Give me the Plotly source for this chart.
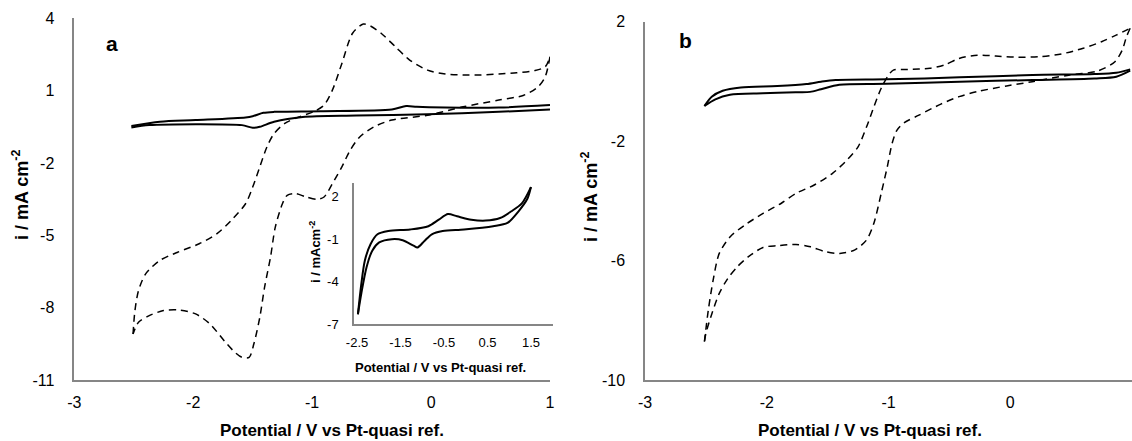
import plotly.graph_objects as go

W, H = 1132, 441

# ---------------- Panel a: main CV (dashed) ----------------
a_dash_fwd_x = [-2.506, -2.49, -2.46, -2.40, -2.28, -2.13, -1.95, -1.80, -1.68, -1.56, -1.50, -1.44, -1.38,
                -1.32, -1.23, -1.11, -0.99, -0.90, -0.83, -0.75, -0.66, -0.57, -0.51, -0.42, -0.30, -0.18,
                -0.03, 0.12, 0.27, 0.42, 0.57, 0.72, 0.87, 0.96, 1.0]
a_dash_fwd_y = [-9.09, -8.12, -7.29, -6.60, -6.04, -5.70, -5.35, -4.93, -4.38, -3.69, -3.0, -2.16, -1.33,
                -0.78, -0.36, -0.09, 0.12, 0.40, 1.02, 2.13, 3.38, 3.76, 3.68, 3.38, 2.82, 2.27,
                1.85, 1.69, 1.65, 1.65, 1.69, 1.74, 1.83, 1.99, 2.41]
a_dash_rev_x = [1.0, 0.96, 0.90, 0.78, 0.57, 0.27, -0.03, -0.33, -0.48, -0.60, -0.68, -0.75, -0.83, -0.90,
                -0.96, -1.05, -1.14, -1.21, -1.25, -1.31, -1.35, -1.40, -1.44, -1.49, -1.53, -1.59, -1.65,
                -1.74, -1.86, -1.98, -2.13, -2.25, -2.37, -2.46, -2.506]
a_dash_rev_y = [2.41, 1.58, 1.16, 0.81, 0.61, 0.33, -0.02, -0.22, -0.50, -0.92, -1.47, -2.16, -2.86, -3.41,
                -3.51, -3.41, -3.27, -3.34, -3.69, -4.66, -5.90, -7.15, -8.40, -9.50, -10.06, -10.06, -9.85,
                -9.37, -8.67, -8.26, -8.09, -8.12, -8.33, -8.60, -9.09]

# ---------------- Panel a: blank CV (solid) ----------------
a_solid_fwd_x = [-2.52, -2.28, -1.98, -1.56, -1.50, -1.41, -1.32, -0.93, -0.33, -0.21, -0.12, 0.12, 0.57, 1.0]
a_solid_fwd_y = [-0.47, -0.29, -0.22, -0.11, -0.06, 0.08, 0.12, 0.15, 0.22, 0.36, 0.33, 0.30, 0.30, 0.40]
a_solid_rev_x = [1.0, 0.57, -0.03, -0.63, -1.08, -1.32, -1.44, -1.50, -1.59, -1.98, -2.37, -2.52]
a_solid_rev_y = [0.22, 0.12, 0.02, -0.03, -0.09, -0.29, -0.50, -0.54, -0.43, -0.39, -0.43, -0.53]

# ---------------- Inset (panel a) ----------------
ins_fwd_x = [-2.48, -2.40, -2.32, -2.19, -2.03, -1.78, -1.28, -0.86, -0.62, -0.41, -0.20, 0.13, 0.46,
             0.79, 1.04, 1.29, 1.50]
ins_fwd_y = [-6.31, -4.12, -2.50, -1.35, -0.65, -0.42, -0.31, -0.08, 0.38, 0.78, 0.62, 0.38, 0.32,
             0.50, 0.96, 1.54, 2.69]
ins_rev_x = [1.50, 1.42, 1.21, 0.96, 0.63, -0.04, -0.53, -0.78, -0.95, -1.11, -1.20, -1.45, -1.70,
             -1.99, -2.15, -2.28, -2.40, -2.48]
ins_rev_y = [2.69, 1.88, 0.96, 0.15, -0.08, -0.31, -0.42, -0.65, -1.12, -1.58, -1.46, -1.07, -1.00,
             -1.23, -1.81, -2.96, -4.81, -6.31]

# ---------------- Panel b: dashed CV ----------------
b_dash_fwd_x = [-2.512, -2.48, -2.44, -2.39, -2.30, -2.18, -2.03, -1.88, -1.76, -1.61, -1.46, -1.34, -1.25,
                -1.18, -1.12, -1.06, -1.0, -0.96, -0.84, -0.66, -0.54, -0.42, -0.27, -0.12, 0.06, 0.24,
                0.42, 0.60, 0.75, 0.87, 0.985]
b_dash_fwd_y = [-8.72, -7.66, -6.65, -5.76, -5.20, -4.81, -4.42, -4.08, -3.75, -3.47, -3.08, -2.63, -2.19,
                -1.52, -0.85, -0.23, 0.21, 0.38, 0.40, 0.44, 0.55, 0.77, 0.88, 0.85, 0.81, 0.83,
                0.92, 1.11, 1.33, 1.55, 1.78]
b_dash_rev_x = [0.985, 0.955, 0.92, 0.86, 0.72, 0.48, 0.18, -0.03, -0.27, -0.42, -0.57, -0.75, -0.87, -0.93,
                -0.97, -1.01, -1.06, -1.12, -1.18, -1.28, -1.40, -1.52, -1.64, -1.76, -1.91, -2.03, -2.15,
                -2.24, -2.32, -2.39, -2.45, -2.50, -2.512]
b_dash_rev_y = [1.78, 1.50, 1.05, 0.66, 0.35, 0.21, -0.01, -0.15, -0.34, -0.51, -0.76, -1.13, -1.38, -1.63,
                -2.07, -2.86, -3.75, -4.75, -5.31, -5.65, -5.76, -5.70, -5.54, -5.46, -5.50, -5.56, -5.87,
                -6.20, -6.60, -7.10, -7.77, -8.44, -8.72]

# ---------------- Panel b: blank CV (solid) ----------------
b_solid_fwd_x = [-2.512, -2.452, -2.362, -2.213, -1.913, -1.674, -1.554, -1.434, -1.015, -0.416, 0.183, 0.692, 0.871, 0.985]
b_solid_fwd_y = [-0.824, -0.512, -0.311, -0.20, -0.155, -0.088, -0.009, 0.046, 0.069, 0.136, 0.214, 0.247, 0.292, 0.404]
b_solid_rev_x = [0.985, 0.871, 0.692, 0.183, -0.416, -1.015, -1.404, -1.554, -1.644, -1.763, -2.033, -2.302, -2.422, -2.512]
b_solid_rev_y = [0.359, 0.158, 0.10, 0.046, -0.009, -0.080, -0.11, -0.26, -0.35, -0.36, -0.40, -0.45, -0.60, -0.824]

# tick labels
a_xticks = [-3, -2, -1, 0, 1]
a_yticks = [4, 1, -2, -5, -8, -11]
b_xticks = [-3, -2, -1, 0, 1]
b_yticks = [2, -2, -6, -10]
ins_xticks = [-2.5, -1.5, -0.5, 0.5, 1.5]
ins_yticks = [2, -1, -4, -7]

x_title = "Potential / V vs Pt-quasi ref."
y_title = "i / mA cm<sup>-2</sup>"
ins_y_title = "i / mAcm<sup>-2</sup>"

FONT = "Liberation Sans, Arial, sans-serif"
AXC = "#868686"

def px(x):
    return x / W

def py(y):
    return 1 - y / H

fig = go.Figure()

def add(xs, ys, xa, ya, dashed, width):
    fig.add_trace(go.Scatter(
        x=xs, y=ys, mode="lines", xaxis=xa, yaxis=ya, showlegend=False, hoverinfo="skip",
        cliponaxis=False,
        line=dict(color="black", width=width, shape="spline", smoothing=0.8,
                  dash="7px,5px" if dashed else "solid")))

add(a_dash_fwd_x, a_dash_fwd_y, "x", "y", True, 1.5)
add(a_dash_rev_x, a_dash_rev_y, "x", "y", True, 1.5)
add(a_solid_fwd_x, a_solid_fwd_y, "x", "y", False, 2)
add(a_solid_rev_x, a_solid_rev_y, "x", "y", False, 2)
add(ins_fwd_x, ins_fwd_y, "x3", "y3", False, 2)
add(ins_rev_x, ins_rev_y, "x3", "y3", False, 2)
add(b_dash_fwd_x, b_dash_fwd_y, "x2", "y2", True, 1.5)
add(b_dash_rev_x, b_dash_rev_y, "x2", "y2", True, 1.5)
add(b_solid_fwd_x, b_solid_fwd_y, "x2", "y2", False, 2)
add(b_solid_rev_x, b_solid_rev_y, "x2", "y2", False, 2)

def axis(domain, rng, ticks, anchor, size, standoff):
    return dict(domain=domain, range=rng, tickvals=ticks, ticktext=[f"{t:g}" for t in ticks],
                showgrid=False, zeroline=False, showline=True, linecolor=AXC, linewidth=1.5,
                ticks="", anchor=anchor, ticklabelstandoff=standoff, automargin=False,
                tickfont=dict(family=FONT, size=size, color="black"))

fig.update_layout(
    width=W, height=H, margin=dict(l=0, r=0, t=0, b=0, autoexpand=False),
    paper_bgcolor="white", plot_bgcolor="rgba(0,0,0,0)",
    xaxis=axis([px(74.3), px(550)], [-3, 1], a_xticks, "y", 16, 7),
    yaxis=axis([py(380), py(18.3)], [-11, 4], a_yticks, "x", 16, 15),
    xaxis2=axis([px(645), 1.0], [-3, 1], b_xticks, "y2", 16, 7),
    yaxis2=axis([py(380), py(21.7)], [-10, 2], b_yticks, "x2", 16, 15),
    xaxis3=axis([px(354), px(552.7)], [-2.57, 2.0], ins_xticks, "y3", 13, 6),
    yaxis3=axis([py(324), py(182.7)], [-7, 3], ins_yticks, "x3", 13, 11),
)

def ann(text, x, y, size, angle=0):
    fig.add_annotation(text=text, x=px(x), y=py(y), xref="paper", yref="paper", showarrow=False,
                       textangle=angle, xanchor="center", yanchor="middle",
                       font=dict(family=FONT, size=size, color="black", weight="bold"))

ann(x_title, 332, 430, 17)
ann(y_title, 20, 195, 18, -90)
ann(x_title, 870, 430, 17)
ann(y_title, 589, 197, 18, -90)
ann(x_title, 440, 367, 13)
ann(ins_y_title, 315, 252, 13, -90)
ann("a", 112, 44, 21)
ann("b", 685, 40, 21)

fig.write_html("out.html", config={"displayModeBar": False},
               post_script="document.body.style.margin='0px';document.body.style.overflow='hidden';")
